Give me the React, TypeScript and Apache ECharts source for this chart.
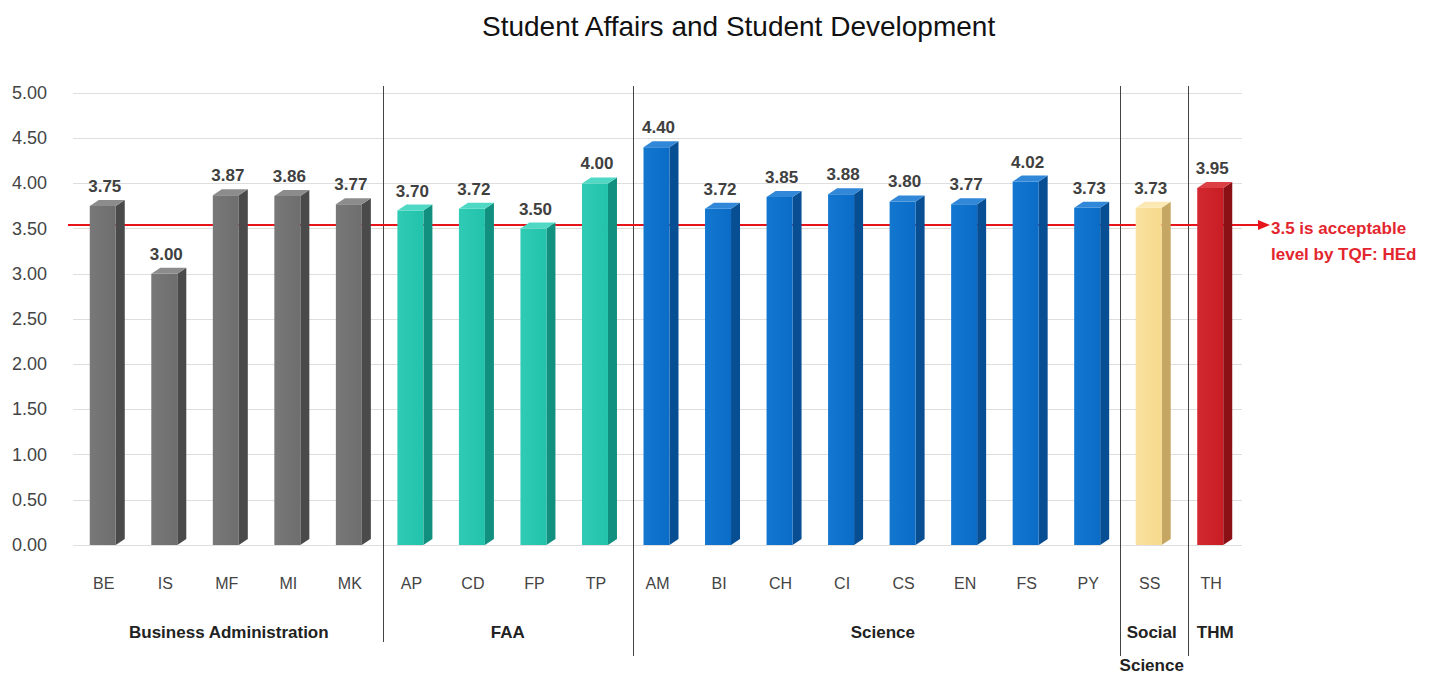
import React, { useEffect, useRef } from "react";
import * as echarts from "echarts";

const categories = ["BE", "IS", "MF", "MI", "MK", "AP", "CD", "FP", "TP", "AM", "BI", "CH", "CI", "CS", "EN", "FS", "PY", "SS", "TH"];
const values = [3.75, 3.0, 3.87, 3.86, 3.77, 3.7, 3.72, 3.5, 4.0, 4.4, 3.72, 3.85, 3.88, 3.8, 3.77, 4.02, 3.73, 3.73, 3.95];
const groupNames = ["Business Administration", "FAA", "Science", "Social\nScience", "THM"];
const groupSizes = [5, 4, 8, 1, 1];
const threshold = 3.5;
const thresholdText = "3.5 is acceptable\nlevel by TQF: HEd";
const title = "Student Affairs and Student Development";

const palette = [
  { front: "#6e6e6e", light: "#787878", side: "#4a4a4a", top: "#8c8c8c" },
  { front: "#22c2ab", light: "#30cbb5", side: "#12907f", top: "#4fd9c5" },
  { front: "#0a6cc6", light: "#1377d0", side: "#074e92", top: "#3288d8" },
  { front: "#f6d98c", light: "#f9e1a0", side: "#c6a663", top: "#fbe8b2" },
  { front: "#c81d25", light: "#d2282f", side: "#8a1015", top: "#dc4045" },
];

// small layout nudges for divider lines / group labels (pixels)
const dividerNudge = [2, 6, 1, 8];
const labelNudge = [2, 4, 10, 2, 4];

const groupOf: number[] = [];
groupSizes.forEach((n, g) => {
  for (let i = 0; i < n; i++) groupOf.push(g);
});

const FONT = '"Liberation Sans", Arial, sans-serif';

export default function App() {
  const ref = useRef<HTMLDivElement>(null);
  useEffect(() => {
    if (!ref.current) return;
    const chart = echarts.init(ref.current, null, { renderer: "svg" });
    const option: any = {
      animation: false,
      backgroundColor: "#ffffff",
      title: {
        text: title,
        left: 477,
        top: 7,
        textStyle: { fontFamily: FONT, fontSize: 28, fontWeight: "normal", color: "#111" },
      },
      grid: { left: 73, right: 200, top: 93, bottom: 135 },
      xAxis: {
        type: "category",
        data: categories,
        axisLine: { show: false },
        axisTick: { show: false },
        axisLabel: { margin: 30, fontFamily: FONT, fontSize: 16, color: "#444" },
      },
      yAxis: {
        type: "value",
        min: 0,
        max: 5,
        interval: 0.5,
        axisLine: { show: false },
        axisTick: { show: false },
        axisLabel: {
          margin: 26,
          fontFamily: FONT,
          fontSize: 18,
          color: "#444",
          formatter: (v: number) => v.toFixed(2),
        },
        splitLine: { lineStyle: { color: "#dedede", width: 1 } },
      },
      series: [
        {
          type: "custom",
          data: values.map((v, i) => [i, v]),
          renderItem: (params: any, api: any) => {
            const idx = api.value(0);
            const v = api.value(1);
            const top = api.coord([idx, v]);
            const base = api.coord([idx, 0]);
            const cx = top[0];
            const L = cx - 14;
            const R = cx + 12;
            const dx = 9;
            const dy = -6;
            const c = palette[groupOf[idx]];
            return {
              type: "group",
              children: [
                {
                  type: "polygon",
                  shape: { points: [[R, top[1]], [R + dx, top[1] + dy], [R + dx, base[1] + dy], [R, base[1]]] },
                  style: { fill: c.side },
                },
                {
                  type: "rect",
                  shape: { x: L, y: top[1], width: R - L, height: base[1] - top[1] },
                  style: {
                    fill: new echarts.graphic.LinearGradient(0, 0, 1, 0, [
                      { offset: 0, color: c.light },
                      { offset: 1, color: c.front },
                    ]),
                  },
                },
                {
                  type: "polygon",
                  shape: { points: [[L, top[1]], [L + dx, top[1] + dy], [R + dx, top[1] + dy], [R, top[1]]] },
                  style: { fill: c.top },
                },
                {
                  type: "text",
                  x: cx + 1,
                  y: top[1] + dy - 5,
                  style: {
                    text: v.toFixed(2),
                    fill: "#404040",
                    font: `bold 17px ${FONT}`,
                    align: "center",
                    verticalAlign: "bottom",
                  },
                },
              ],
            };
          },
        },
      ],
    };
    chart.setOption(option);

    const px = (i: number) => chart.convertToPixel({ xAxisIndex: 0 }, i) as number;
    const py = Math.round(chart.convertToPixel({ yAxisIndex: 0 }, threshold) as number) - 4;
    const graphics: any[] = [];
    let start = 0;
    groupSizes.forEach((n, g) => {
      const end = start + n - 1;
      const center = (px(start) + px(end)) / 2 + labelNudge[g];
      const lines = groupNames[g].split("\n");
      lines.forEach((t, k) => {
        graphics.push({
          type: "text",
          x: center,
          y: 632 + k * 33,
          style: {
            text: t,
            font: `bold 17px ${FONT}`,
            fill: "#222",
            align: "center",
            verticalAlign: "middle",
          },
        });
      });
      if (g < groupSizes.length - 1) {
        const bx = Math.round((px(end) + px(end + 1)) / 2 + dividerNudge[g]) + 0.5;
        graphics.push({
          type: "line",
          shape: { x1: bx, y1: 86, x2: bx, y2: g === 0 ? 642 : 656 },
          style: { stroke: "#444", lineWidth: 1 },
        });
      }
      start += n;
    });
    graphics.push({
      type: "line",
      shape: { x1: 68, y1: py, x2: 1262, y2: py },
      style: { stroke: "#e8141c", lineWidth: 2 },
    });
    graphics.push({
      type: "polygon",
      shape: { points: [[1258, py - 5], [1270, py], [1258, py + 5]] },
      style: { fill: "#e8141c" },
    });
    graphics.push({
      type: "text",
      x: 1271,
      y: py - 10,
      style: {
        text: thresholdText,
        font: `bold 17px ${FONT}`,
        fill: "#e3262e",
        lineHeight: 26,
        align: "left",
        verticalAlign: "top",
      },
    });
    chart.setOption({ graphic: graphics });
    return () => chart.dispose();
  }, []);
  return <div ref={ref} style={{ width: 1442, height: 680, margin: -8 }} />;
}
